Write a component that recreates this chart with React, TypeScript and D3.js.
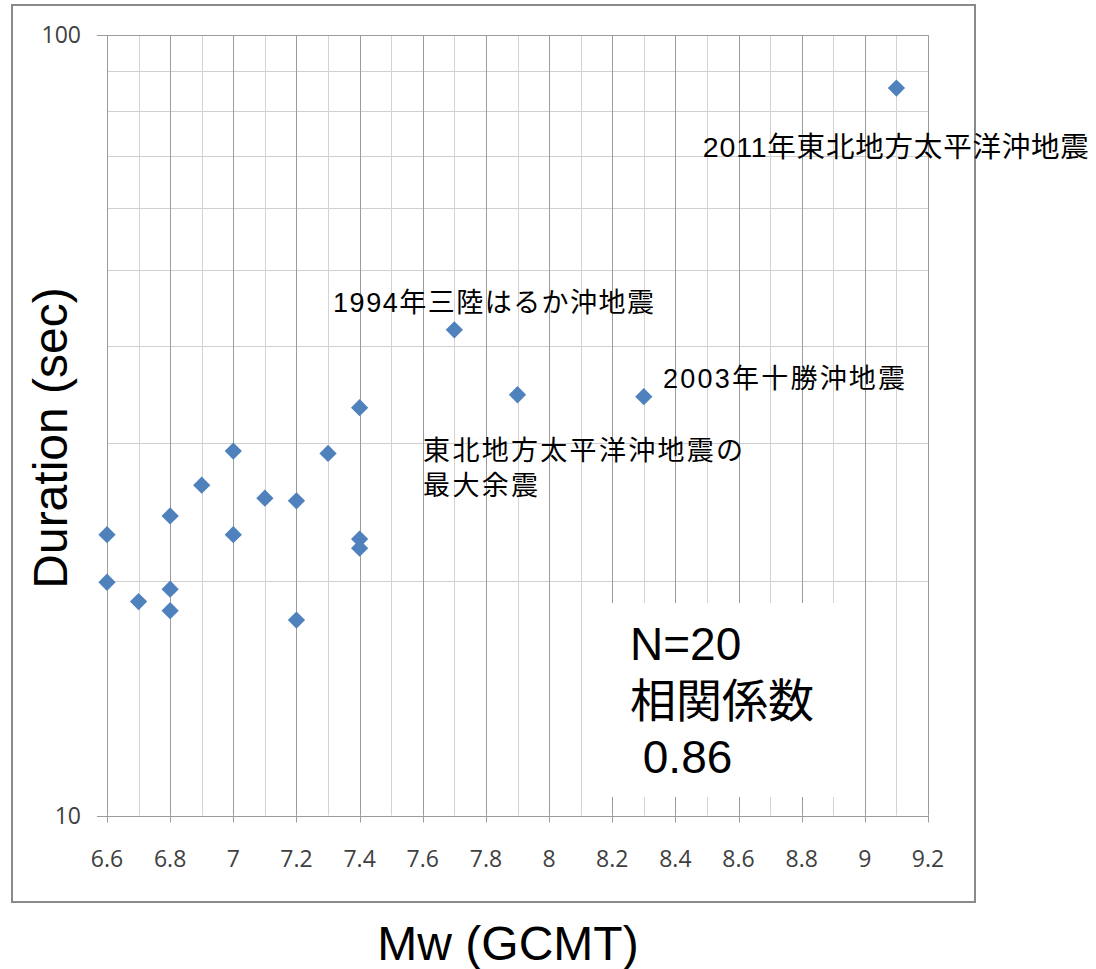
import React from "react";
import * as d3 from "d3";

// ---- data ----
const mw: number[] = [6.6, 6.6, 6.7, 6.8, 6.8, 6.8, 6.9, 7.0, 7.0, 7.1, 7.2, 7.2, 7.3, 7.4, 7.4, 7.4, 7.7, 7.9, 8.3, 9.1];
const duration: number[] = [22.9, 19.9, 18.8, 24.2, 19.5, 18.3, 26.5, 29.3, 22.9, 25.5, 25.3, 17.8, 29.1, 22.6, 22.0, 33.3, 41.9, 34.6, 34.4, 85.5];

const xTickValues: number[] = [6.6, 6.8, 7.0, 7.2, 7.4, 7.6, 7.8, 8.0, 8.2, 8.4, 8.6, 8.8, 9.0, 9.2];
const xTickLabels: string[] = ["6.6", "6.8", "7", "7.2", "7.4", "7.6", "7.8", "8", "8.2", "8.4", "8.6", "8.8", "9", "9.2"];
const yMajorValues: number[] = [10, 100];
const yMajorLabels: string[] = ["10", "100"];
const yMinorValues: number[] = [20, 30, 40, 50, 60, 70, 80, 90];

const annotationTexts: string[][] = [
  ["2011年東北地方太平洋沖地震"],
  ["1994年三陸はるか沖地震"],
  ["2003年十勝沖地震"],
  ["東北地方太平洋沖地震の", "最大余震"],
];
const annotationMw: number[] = [8.487, 7.316, 8.361, 7.601];
const annotationDur: number[] = [69.8, 44.2, 35.3, 28.5];
const annotationSize: number[] = [28.5, 27, 27, 27];
const annotationWidths: number[][] = [[386], [321], [242], [320, 115]];

const statsLines: string[] = ["N=20", "相関係数", " 0.86"];

const xTitle = "Mw (GCMT)";
const yTitle = "Duration (sec)";

// ---- layout ----
const W = 1096;
const H = 969;
const plotLeft = 107;
const plotRight = 928;
const plotTop = 35;
const plotBottom = 815.5;

const FONT_TXT = "'Liberation Sans', Arial, 'Noto Sans CJK JP', sans-serif";
const FONT_TICK = "'Open Sans', 'DejaVu Sans', sans-serif";

export default function App() {
  const x = d3.scaleLinear().domain([6.6, 9.2]).range([plotLeft, plotRight]);
  const y = d3.scaleLog().domain([10, 100]).range([plotBottom, plotTop]);

  const vMajor = d3.range(0, 14).map((i) => 6.6 + i * 0.2);
  const vMinor = d3.range(0, 13).map((i) => 6.7 + i * 0.2);
  const crisp = (v: number) => Math.round(v) + 0.5;

  const diamondPath = d3.symbol().type(d3.symbolDiamond2).size(190)() as string;

  return (
    <svg width={W} height={H} style={{ position: "absolute", left: 0, top: 0, background: "#fff" }}>
      <rect x={0} y={0} width={W} height={H} fill="#fff" />
      {/* outer frame */}
      <rect x={12} y={5} width={963} height={897} fill="#fff" stroke="#8a8a8a" strokeWidth={2} />

      {/* horizontal minor gridlines */}
      {yMinorValues.map((v) => (
        <line key={"hm" + v} x1={plotLeft} x2={plotRight} y1={crisp(y(v))} y2={crisp(y(v))} stroke="#d0d0d0" strokeWidth={1} />
      ))}
      {/* vertical minor gridlines */}
      {vMinor.map((v) => (
        <line key={"vm" + v} x1={crisp(x(v))} x2={crisp(x(v))} y1={plotTop} y2={plotBottom} stroke="#d3d3d3" strokeWidth={1} />
      ))}
      {/* vertical major gridlines */}
      {vMajor.map((v) => (
        <line key={"vM" + v} x1={crisp(x(v))} x2={crisp(x(v))} y1={plotTop} y2={plotBottom} stroke="#9c9c9c" strokeWidth={1} />
      ))}
      {/* horizontal major lines (10, 100) with outward ticks */}
      {yMajorValues.map((v) => (
        <line key={"hM" + v} x1={plotLeft - 10} x2={plotRight} y1={crisp(y(v))} y2={crisp(y(v))} stroke="#9c9c9c" strokeWidth={1} />
      ))}
      {/* x major ticks */}
      {xTickValues.map((v) => (
        <line key={"xt" + v} x1={crisp(x(v))} x2={crisp(x(v))} y1={plotBottom} y2={plotBottom + 7} stroke="#9c9c9c" strokeWidth={1} />
      ))}

      {/* tick labels */}
      {yMajorValues.map((v, i) => (
        <text key={"yl" + v} x={81} y={y(v)} dy="0.36em" textAnchor="end" fontFamily={FONT_TICK} fontSize={23} fill="#404040">
          {yMajorLabels[i]}
        </text>
      ))}
      {xTickValues.map((v, i) => (
        <text key={"xl" + v} x={x(v)} y={867} textAnchor="middle" fontFamily={FONT_TICK} fontSize={23} fill="#404040">
          {xTickLabels[i]}
        </text>
      ))}

      {/* data points */}
      {mw.map((m, i) => (
        <path key={"p" + i} d={diamondPath} transform={`translate(${x(m)},${y(duration[i])})`} fill="#4F81BD" />
      ))}

      {/* annotations */}
      {annotationTexts.map((lines, i) =>
        lines.map((ln, j) => (
          <text
            key={"a" + i + "-" + j}
            x={x(annotationMw[i])}
            y={y(annotationDur[i]) + j * 35}
            fontFamily={FONT_TXT}
            fontSize={annotationSize[i]}
            fill="#000"
            textLength={annotationWidths[i][j]}
            lengthAdjust="spacing"
          >
            {ln}
          </text>
        ))
      )}

      {/* stats box */}
      <rect x={606} y={603} width={254} height={194} fill="#fff" />
      {statsLines.map((s, i) => (
        <text key={"s" + i} x={630} y={660 + i * 56.5} fontFamily={FONT_TXT} fontSize={46} fill="#000" style={{ whiteSpace: "pre" }}>
          {s}
        </text>
      ))}

      {/* axis titles */}
      <text x={508} y={960} textAnchor="middle" fontFamily={FONT_TXT} fontSize={48} fill="#000">
        {xTitle}
      </text>
      <text transform={`translate(67,${438}) rotate(-90)`} textAnchor="middle" fontFamily={FONT_TXT} fontSize={48} fill="#000">
        {yTitle}
      </text>
    </svg>
  );
}
